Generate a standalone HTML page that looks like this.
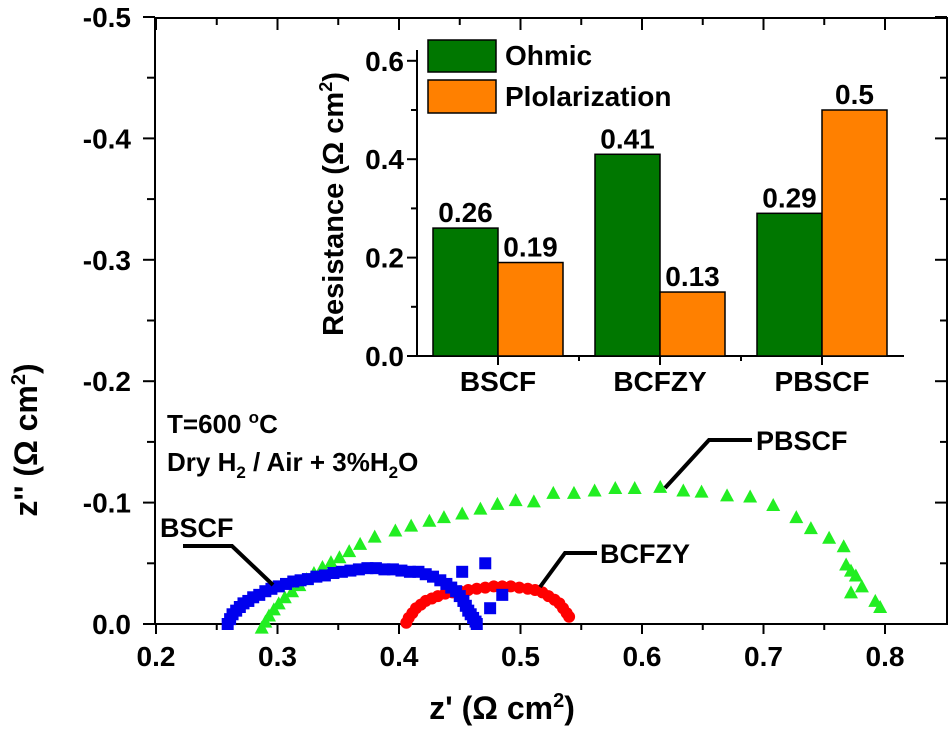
<!DOCTYPE html>
<html><head><meta charset="utf-8"><style>
html,body{margin:0;padding:0;background:#fff;}
svg{display:block;font-family:"Liberation Sans",Arial,sans-serif;font-weight:bold;}
</style></head><body>
<svg id="chart" width="951" height="732" viewBox="0 0 951 732">
<g id="main"></g><g id="inset"></g>
</svg>
<script>
const NS="http://www.w3.org/2000/svg";
// main chart data
const xTicks=[0.2,0.3,0.4,0.5,0.6,0.7,0.8];
const xTickLabels=["0.2","0.3","0.4","0.5","0.6","0.7","0.8"];
const yTicks=[0,0.1,0.2,0.3,0.4,0.5];
const yTickLabels=["0.0","-0.1","-0.2","-0.3","-0.4","-0.5"];
const bscfX=[0.259,0.261,0.263,0.266,0.269,0.272,0.276,0.280,0.285,0.290,0.295,0.301,0.307,0.313,0.319,0.325,0.332,0.339,0.346,0.353,0.360,0.367,0.374,0.381,0.388,0.395,0.402,0.409,0.416,0.422,0.428,0.434,0.439,0.443,0.447,0.450,0.453,0.455,0.457,0.459,0.461,0.463,0.464,0.452,0.471,0.485,0.475];
const bscfY=[0.000,0.004,0.008,0.011,0.014,0.017,0.019,0.022,0.024,0.027,0.029,0.031,0.033,0.035,0.036,0.037,0.039,0.040,0.042,0.043,0.044,0.045,0.046,0.046,0.045,0.045,0.044,0.043,0.043,0.041,0.039,0.036,0.033,0.030,0.027,0.023,0.019,0.015,0.011,0.008,0.005,0.002,0.000,0.043,0.050,0.024,0.013];
const bczX=[0.406,0.408,0.411,0.414,0.418,0.422,0.427,0.432,0.438,0.444,0.450,0.457,0.464,0.471,0.478,0.485,0.492,0.499,0.506,0.512,0.518,0.523,0.528,0.532,0.535,0.538,0.540];
const bczY=[0.001,0.005,0.009,0.013,0.016,0.019,0.021,0.023,0.025,0.026,0.027,0.028,0.029,0.030,0.031,0.031,0.031,0.030,0.029,0.028,0.026,0.023,0.020,0.017,0.013,0.009,0.006];
const pbX=[0.287,0.290,0.293,0.297,0.301,0.306,0.312,0.318,0.324,0.330,0.337,0.344,0.351,0.359,0.368,0.380,0.397,0.410,0.425,0.437,0.452,0.467,0.481,0.496,0.511,0.527,0.544,0.561,0.578,0.594,0.615,0.634,0.649,0.670,0.689,0.708,0.727,0.739,0.754,0.766,0.768,0.772,0.776,0.781,0.772,0.792,0.796];
const pbY=[-0.003,0.002,0.007,0.012,0.017,0.022,0.027,0.032,0.037,0.042,0.047,0.051,0.055,0.060,0.066,0.072,0.077,0.081,0.085,0.088,0.091,0.095,0.099,0.102,0.101,0.108,0.108,0.110,0.112,0.112,0.113,0.110,0.109,0.106,0.105,0.098,0.088,0.079,0.071,0.064,0.049,0.044,0.040,0.031,0.026,0.019,0.014];
// inset data
const cats=["BSCF","BCFZY","PBSCF"];
const ohmic=[0.26,0.41,0.29];
const polar=[0.19,0.13,0.5];
const ohmicLabels=["0.26","0.41","0.29"];
const polarLabels=["0.19","0.13","0.5"];
const insetTicks=[0,0.2,0.4,0.6];
const insetTickLabels=["0.0","0.2","0.4","0.6"];

const X=v=>156+(v-0.2)*1215;
const Y=v=>624-v*1214;
const IY=v=>356-v*492;
const CX=i=>498+i*162;

function mk(tag,attrs,parent,text){const e=document.createElementNS(NS,tag);for(const k in attrs)e.setAttribute(k,attrs[k]);if(text!==undefined)e.textContent=text;parent.appendChild(e);return e;}
const M=document.getElementById('main'), I=document.getElementById('inset');

let fr=mk('rect',{x:155,y:18,width:792,height:606,fill:'none',stroke:'#000','stroke-width':2},M);

for(let i=0;i<xTicks.length;i++){
  const x=X(xTicks[i]);
  mk('line',{x1:x,y1:624,x2:x,y2:634,stroke:'#000','stroke-width':2},M);
  mk('line',{x1:x,y1:18,x2:x,y2:30,stroke:'#000','stroke-width':2},M);
  const t=mk('text',{x:x,y:666,'text-anchor':'middle','font-size':28},M,xTickLabels[i]);
  
  if(i<xTicks.length-1){const xm=X(xTicks[i]+0.05);
    mk('line',{x1:xm,y1:624,x2:xm,y2:630,stroke:'#000','stroke-width':2},M);
    mk('line',{x1:xm,y1:18,x2:xm,y2:25,stroke:'#000','stroke-width':2},M);}
}
for(let i=0;i<yTicks.length;i++){
  const y=Y(yTicks[i]);
  mk('line',{x1:143,y1:y,x2:155,y2:y,stroke:'#000','stroke-width':2},M);
  mk('line',{x1:935,y1:y,x2:947,y2:y,stroke:'#000','stroke-width':2},M);
  const t=mk('text',{x:131,y:y+10,'text-anchor':'end','font-size':28},M,yTickLabels[i]);
  
  if(i<yTicks.length-1){const ym=Y(yTicks[i]+0.05);
    mk('line',{x1:147,y1:ym,x2:155,y2:ym,stroke:'#000','stroke-width':2},M);
    mk('line',{x1:940,y1:ym,x2:947,y2:ym,stroke:'#000','stroke-width':2},M);}
}
let xt=mk('text',{x:502,y:719,'text-anchor':'middle','font-size':32},M);
xt.innerHTML='z\' (Ω cm<tspan dy="-12" font-size="20">2</tspan><tspan dy="12">)</tspan>';

let yt=mk('text',{x:0,y:0,'text-anchor':'middle','font-size':32,transform:'translate(37,440) rotate(-90)'},M);
yt.innerHTML='z\'\' (Ω cm<tspan dy="-12" font-size="20">2</tspan><tspan dy="12">)</tspan>';

let c1=mk('text',{x:167,y:433,'font-size':26},M);
c1.innerHTML='T=600 <tspan dy="-10" font-size="17">o</tspan><tspan dy="10">C</tspan>';

let c2=mk('text',{x:167,y:471,'font-size':26},M);
c2.innerHTML='Dry H<tspan dy="7" font-size="17">2</tspan><tspan dy="-7"> / Air + 3%H</tspan><tspan dy="7" font-size="17">2</tspan><tspan dy="-7">O</tspan>';


for(let i=0;i<pbX.length;i++){const x=X(pbX[i]),y=Y(pbY[i]);
  const p=mk('polygon',{points:`${x},${y-7} ${x-7},${y+6} ${x+7},${y+6}`,fill:'#22ee22'},M);
  }
for(let i=0;i<bczX.length;i++){
  const c=mk('circle',{cx:X(bczX[i]),cy:Y(bczY[i]),r:6,fill:'#f00'},M);
  }
for(let i=0;i<bscfX.length;i++){
  const r=mk('rect',{x:X(bscfX[i])-6,y:Y(bscfY[i])-6,width:12,height:12,fill:'#0000ee'},M);
  }

function ann(pts,tx,ty,label,name){
  mk('polyline',{points:pts,fill:'none',stroke:'#000','stroke-width':4},M);
  const t=mk('text',{x:tx,y:ty,'font-size':27},M,label);
  }
ann('665,488 709,440 752,440',756,450,'PBSCF','pbscf-label');
ann('540,587 565,553 597,553',600,563,'BCFZY','bcfzy-label');
ann('273,585 232,546 183,546',160,537,'BSCF','bscf-label');

mk('line',{x1:417,y1:50,x2:417,y2:357,stroke:'#000','stroke-width':2},I);
mk('line',{x1:416,y1:356,x2:904,y2:356,stroke:'#000','stroke-width':2},I);
for(let i=0;i<insetTicks.length;i++){const y=IY(insetTicks[i]);
  mk('line',{x1:407,y1:y,x2:417,y2:y,stroke:'#000','stroke-width':2},I);
  const t=mk('text',{x:404,y:y+10,'text-anchor':'end','font-size':28},I,insetTickLabels[i]);
  
  if(i<insetTicks.length-1){const ym=IY(insetTicks[i]+0.1);mk('line',{x1:411,y1:ym,x2:417,y2:ym,stroke:'#000','stroke-width':2},I);}
}
let it=mk('text',{x:0,y:0,'text-anchor':'middle','font-size':29,transform:'translate(343,204) rotate(-90)'},I);
it.innerHTML='Resistance (Ω cm<tspan dy="-11" font-size="18">2</tspan><tspan dy="11">)</tspan>';

const bw=65;
for(let i=0;i<cats.length;i++){const cx=CX(i);
  mk('line',{x1:cx,y1:356,x2:cx,y2:365,stroke:'#000','stroke-width':2},I);
  if(i<cats.length-1)mk('line',{x1:cx+81,y1:356,x2:cx+81,y2:361,stroke:'#000','stroke-width':2},I);
  const g=mk('rect',{x:cx-bw,y:IY(ohmic[i]),width:bw,height:IY(0)-IY(ohmic[i]),fill:'#007700',stroke:'#000','stroke-width':1.5},I);
  
  const o=mk('rect',{x:cx,y:IY(polar[i]),width:bw,height:IY(0)-IY(polar[i]),fill:'#ff8000',stroke:'#000','stroke-width':1.5},I);
  
  const l1=mk('text',{x:cx-bw/2,y:IY(ohmic[i])-6,'text-anchor':'middle','font-size':28},I,ohmicLabels[i]);
  
  const l2=mk('text',{x:cx+bw/2,y:IY(polar[i])-6,'text-anchor':'middle','font-size':28},I,polarLabels[i]);
  
  const cl=mk('text',{x:cx,y:391,'text-anchor':'middle','font-size':28},I,cats[i]);
  
}
let lb1=mk('rect',{x:428,y:40,width:68,height:32,fill:'#007700',stroke:'#000','stroke-width':1.5},I);

let lt1=mk('text',{x:505,y:65,'font-size':28},I,'Ohmic');

let lb2=mk('rect',{x:428,y:80,width:68,height:33,fill:'#ff8000',stroke:'#000','stroke-width':1.5},I);

let lt2=mk('text',{x:505,y:106,'font-size':28},I,'Plolarization');

</script>
</body></html>
